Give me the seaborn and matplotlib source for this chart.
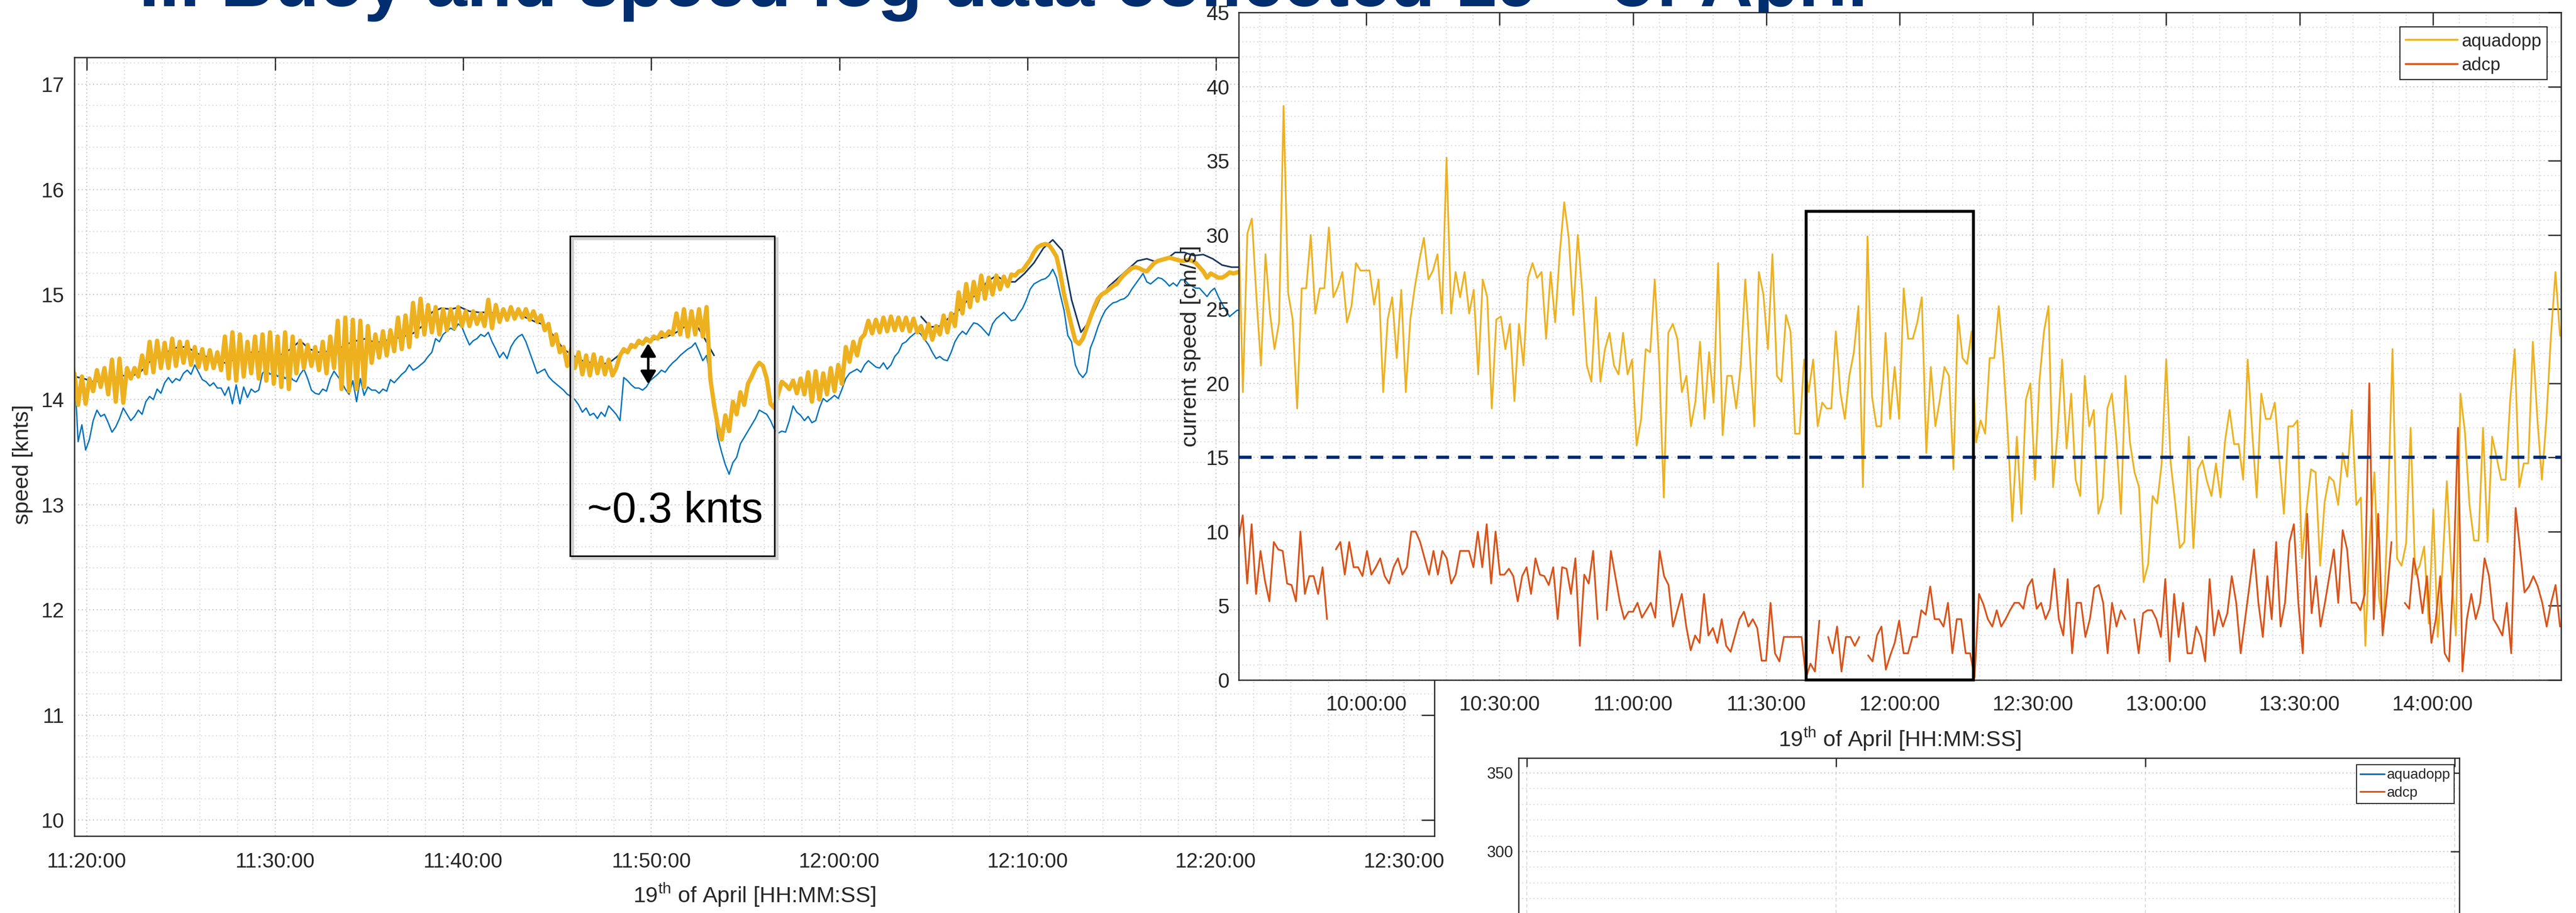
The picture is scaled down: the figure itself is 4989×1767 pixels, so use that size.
import numpy as np
import pandas as pd
import matplotlib
matplotlib.use("Agg")
import matplotlib.pyplot as plt
import matplotlib.dates as mdates
import matplotlib.transforms as mtransforms
from matplotlib.patches import Rectangle, FancyArrowPatch
from matplotlib.lines import Line2D
from matplotlib.ticker import MultipleLocator
import seaborn as sns

sns.set_theme(style="white")
plt.rcParams["font.family"] = ["Liberation Sans", "DejaVu Sans"]
plt.rcParams["mathtext.fontset"] = "custom"
plt.rcParams["mathtext.rm"] = "Liberation Sans"
plt.rcParams["mathtext.it"] = "Liberation Sans:italic"
plt.rcParams["mathtext.bf"] = "Liberation Sans:bold"

DAY = "2018-04-19 "
TXT = "#262626"

# ---------------- left panel: ship speed [knts], 12 s samples from 11:19:20
speed_orange = [
    14.25, 13.95, 14.22, 13.96, 14.20,
    14.08, 14.28, 14.12, 14.30, 14.05,
    14.38, 13.98, 14.39, 13.97, 14.30,
    14.20, 14.30, 14.22, 14.42, 14.25,
    14.55, 14.26, 14.56, 14.30, 14.54,
    14.30, 14.58, 14.32, 14.55, 14.35,
    14.55, 14.33, 14.50, 14.31, 14.48,
    14.29, 14.47, 14.30, 14.45, 14.28,
    14.60, 14.20, 14.64, 14.18, 14.62,
    14.22, 14.55, 14.25, 14.60, 14.20,
    14.62, 14.18, 14.64, 14.15, 14.60,
    14.12, 14.64, 14.10, 14.60, 14.25,
    14.56, 14.30, 14.52, 14.32, 14.50,
    14.28, 14.55, 14.25, 14.60, 14.30,
    14.75, 14.10, 14.78, 14.08, 14.76,
    14.10, 14.75, 14.12, 14.70, 14.35,
    14.62, 14.40, 14.65, 14.42, 14.66,
    14.46, 14.78, 14.48, 14.80, 14.50,
    14.92, 14.60, 14.96, 14.62, 14.90,
    14.64, 14.88, 14.62, 14.86, 14.66,
    14.86, 14.68, 14.88, 14.70, 14.84,
    14.70, 14.84, 14.72, 14.82, 14.70,
    14.95, 14.68, 14.90, 14.74, 14.86,
    14.76, 14.88, 14.77, 14.86, 14.78,
    14.86, 14.76, 14.84, 14.74, 14.80,
    14.66, 14.72, 14.52, 14.62, 14.45,
    14.50, 14.32, 14.48, 14.30, 14.45,
    14.24, 14.42, 14.23, 14.43, 14.25,
    14.40, 14.24, 14.38, 14.23, 14.30,
    14.42, 14.48, 14.45, 14.52, 14.50,
    14.56, 14.53, 14.58, 14.55, 14.60,
    14.58, 14.64, 14.60, 14.65, 14.62,
    14.82, 14.62, 14.86, 14.60, 14.84,
    14.62, 14.86, 14.60, 14.88, 14.20,
    13.95, 13.75, 13.62, 13.85, 13.70,
    13.98, 13.86, 14.07, 13.95, 14.15,
    14.22, 14.30, 14.35, 14.32, 14.20,
    13.96, 13.92, 14.05, 14.17, 14.14,
    14.10, 14.18, 14.06, 14.20, 14.05,
    14.26, 13.98, 14.27, 14.00, 14.25,
    14.05, 14.30, 14.08, 14.33, 14.15,
    14.50, 14.36, 14.55, 14.42, 14.58,
    14.62, 14.75, 14.63, 14.76, 14.64,
    14.78, 14.65, 14.79, 14.66, 14.78,
    14.66, 14.78, 14.65, 14.77, 14.64,
    14.70, 14.58, 14.72, 14.57, 14.70,
    14.62, 14.80, 14.64, 14.82, 14.70,
    15.02, 14.82, 15.10, 14.88, 15.12,
    14.94, 15.18, 14.96, 15.16, 15.00,
    15.18, 15.05, 15.17, 15.08, 15.19,
    15.18, 15.22, 15.23, 15.28, 15.33,
    15.40, 15.45, 15.47, 15.48, 15.47,
    15.42, 15.36, 15.20, 15.00, 14.85,
    14.70, 14.56, 14.53, 14.58, 14.68,
    14.78, 14.88, 14.96, 15.00, 15.02,
    15.05, 15.08, 15.10, 15.15, 15.19,
    15.22, 15.25, 15.26, 15.25, 15.23,
    15.22, 15.26, 15.30, 15.32, 15.33,
    15.34, 15.35, 15.34, 15.33, 15.32,
    15.32, 15.33, 15.32, 15.30, 15.26,
    15.22, 15.16, 15.20, 15.18, 15.16,
    15.16, 15.18, 15.21, 15.20, 15.21,
    15.22, 15.20, 15.23, 15.21, 15.24,
]

speed_blue = [
    14.30, 13.60, 13.76, 13.52, 13.62,
    13.80, 13.90, 13.84, 13.86, 13.78,
    13.69, 13.74, 13.82, 13.92, 13.86,
    13.80, 13.84, 13.90, 13.86, 13.98,
    14.03, 14.00, 14.10, 14.06, 14.16,
    14.21, 14.16, 14.20, 14.18, 14.25,
    14.28, 14.24, 14.33, 14.26, 14.19,
    14.17, 14.13, 14.16, 14.11, 14.11,
    14.04, 14.12, 13.96, 14.14, 13.96,
    14.12, 14.02, 14.10, 14.07, 14.09,
    14.25, 14.29, 14.24, 14.27, 14.22,
    14.25, 14.20, 14.24, 14.19, 14.17,
    14.24, 14.29, 14.20, 14.09, 14.06,
    14.05, 14.10, 14.08, 14.20, 14.27,
    14.22, 14.17, 14.10, 14.05, 14.18,
    13.98, 14.20, 14.04, 14.12, 14.09,
    14.09, 14.06, 14.10, 14.08, 14.19,
    14.16, 14.20, 14.24, 14.27, 14.33,
    14.28, 14.30, 14.33, 14.36, 14.41,
    14.45, 14.58, 14.55, 14.62, 14.65,
    14.68, 14.66, 14.72, 14.69, 14.60,
    14.52, 14.56, 14.58, 14.62, 14.60,
    14.64, 14.55, 14.48, 14.40, 14.45,
    14.39, 14.50, 14.56, 14.60, 14.62,
    14.55, 14.45, 14.35, 14.25, 14.27,
    14.29, 14.22, 14.18, 14.15, 14.12,
    14.09, 14.05, 14.03, 14.00, 13.95,
    13.88, 13.92, 13.85, 13.87, 13.82,
    13.88, 13.84, 13.94, 13.90, 13.86,
    13.80, 14.21, 14.18, 14.14, 14.11,
    14.11, 14.09, 14.12, 14.18, 14.21,
    14.24, 14.28, 14.26, 14.31, 14.35,
    14.38, 14.42, 14.45, 14.48, 14.50,
    14.54, 14.46, 14.37, 14.42, 14.20,
    13.90, 13.64, 13.50, 13.38, 13.29,
    13.40, 13.45, 13.58, 13.64, 13.70,
    13.76, 13.82, 13.90, 13.88, 13.86,
    13.80, 13.72, 13.68, 13.70, 13.69,
    13.80, 13.94, 13.88, 13.85, 13.80,
    13.84, 13.78, 13.80, 13.92, 14.01,
    13.98, 14.01, 14.04, 14.01, 14.10,
    14.20, 14.25, 14.27, 14.29, 14.26,
    14.33, 14.37, 14.34, 14.31, 14.30,
    14.35, 14.29, 14.33, 14.41, 14.45,
    14.53, 14.55, 14.59, 14.62, 14.65,
    14.62, 14.57, 14.52, 14.45, 14.39,
    14.41, 14.38, 14.37, 14.45, 14.55,
    14.61, 14.65, 14.62, 14.68, 14.73,
    14.72, 14.69, 14.65, 14.61, 14.72,
    14.77, 14.80, 14.83, 14.79, 14.75,
    14.76, 14.82, 14.87, 14.95, 15.05,
    15.10, 15.12, 15.14, 15.15, 15.18,
    15.24, 15.16, 15.00, 14.85, 14.61,
    14.55, 14.33, 14.25, 14.21, 14.26,
    14.49, 14.58, 14.69, 14.78, 14.85,
    14.89, 14.92, 14.93, 14.95, 14.96,
    14.99, 15.05, 15.10, 15.15, 15.20,
    15.12, 15.10, 15.13, 15.16, 15.15,
    15.12, 15.08, 15.11, 15.08, 15.14,
    15.14, 15.10, 15.08, 15.06, 15.06,
    15.02, 14.98, 15.03, 15.06, 14.98,
    14.91, 14.85, 14.79, 14.82, 14.85,
    14.85, 14.90, 14.88, 14.92, 14.90,
]

# 30 s samples from 11:19:20, nan = no data
speed_navy = [
    14.22, 14.20, 14.17, 14.18, 14.20, 14.23, 14.22, 14.26, 14.36, 14.41,
    14.46, 14.50, 14.50, 14.44, 14.41, 14.36, 14.35, 14.38, 14.41, 14.46,
    14.45, 14.41, 14.43, 14.48, 14.56, 14.48, 14.45, 14.46, 14.48, 14.53,
    14.56, 14.58, 14.54, 14.56, 14.58, 14.60, 14.63, 14.70, 14.83, 14.87,
    14.86, 14.88, 14.84, 14.83, 14.83, 14.82, 14.81, 14.83, 14.78, 14.74,
    14.71, 14.60, 14.48, 14.42, 14.37, 14.35, 14.33, 14.36, 14.43, 14.48,
    14.53, 14.56, 14.58, 14.60, 14.64, 14.70, 14.73, 14.58, 14.42, np.nan,
    np.nan, np.nan, np.nan, np.nan, np.nan, np.nan, np.nan, np.nan, np.nan, np.nan,
    np.nan, np.nan, np.nan, np.nan, np.nan, np.nan, np.nan, np.nan, np.nan, np.nan,
    14.79, 14.69, 14.70, 14.78, 14.85, 14.95, 15.00, 15.12, 15.18, 15.12,
    15.12, 15.20, 15.30, 15.44, 15.52, 15.42, 14.95, 14.64, 14.76, 14.96,
    15.08, 15.16, 15.24, 15.32, 15.34, 15.31, 15.33, 15.40, 15.40, 15.37,
    15.38, 15.34, 15.28, 15.26, 15.26, 15.27, 15.28,
]

# ---------------- right panel: current speed [cm/s], ~1 min samples 09:31:12 - 14:28:36
aquadopp = [
    31.6, 19.4, 30.1, 31.1, 25.8, 21.2, 28.7, 24.7, 22.3, 24.1,
    38.7, 26.1, 24.3, 18.3, 26.4, 26.4, 30.0, 24.7, 26.4, 26.4,
    30.5, 25.8, 26.5, 27.5, 24.1, 25.2, 28.1, 27.6, 27.6, 27.6,
    25.3, 27.0, 19.4, 24.3, 25.8, 21.7, 26.3, 19.4, 24.3, 26.5,
    28.3, 29.8, 27.0, 27.6, 28.7, 24.7, 35.2, 24.7, 27.5, 25.8,
    27.5, 24.7, 26.3, 20.6, 27.0, 25.8, 18.3, 24.3, 24.5, 22.3,
    24.0, 18.8, 24.0, 21.2, 27.1, 28.1, 27.1, 27.5, 23.0, 27.5,
    24.1, 28.7, 32.2, 29.8, 24.6, 30.0, 26.1, 21.2, 20.1, 25.8,
    20.1, 22.3, 23.4, 21.2, 20.6, 23.4, 20.6, 21.6, 15.8, 17.6,
    22.3, 22.1, 27.0, 21.2, 12.3, 23.4, 24.0, 23.0, 19.4, 20.5,
    17.1, 18.8, 22.8, 17.6, 22.1, 18.7, 28.1, 16.5, 20.5, 20.5,
    18.3, 21.2, 27.0, 22.1, 17.1,
    27.5, 26.0, 22.3, 28.7, 20.5, 20.1, 24.6, 23.5, 16.6, 16.6,
    21.6, 19.4, 21.6, 17.1, 18.7, 18.3, 18.3, 23.5, 19.4, 17.6,
    20.5, 22.1, 25.2, 13.0, 29.9, 19.1, 17.1, 17.1, 23.4, 17.6,
    21.1, 17.6, 26.4, 23.0, 23.0, 24.1, 25.8, 15.3, 21.1, 17.1,
    18.9, 21.1, 20.5, 14.2, 24.6, 21.7, 21.3, 23.5, 16.0, 17.5,
    16.6, 21.7, 21.7, 25.2, 21.6, 16.6, 10.7, 16.4, 11.2, 18.9,
    20.0, 13.5, 20.2, 23.5, 25.2, 13.0, 16.7, 21.6, 15.6, 19.3,
    13.5, 12.4, 20.5, 17.1, 18.2, 11.2, 12.3, 18.3, 19.3, 16.1,
    11.2, 20.5, 16.0, 14.0, 13.0, 6.6, 7.8, 12.4, 11.9, 14.6,
    21.6, 14.6, 11.9, 8.9, 9.3, 16.4, 8.9, 14.2, 14.8, 13.4,
    12.4, 14.6, 12.3, 16.1, 18.2, 15.9, 15.9, 13.5, 21.6, 16.7,
    12.3, 19.3, 17.6, 17.6, 18.7, 14.8, 11.2, 17.1, 17.1, 17.5,
    8.2, 11.5, 14.2, 14.0, 7.7, 12.0, 13.7, 13.4, 11.8, 15.3,
    13.7, 18.2, 11.8, 12.3, 2.3, 9.7, 14.0, 5.6, 3.7, 11.8,
    22.3, 8.2, 7.7, 9.2, 17.0, 7.1, 7.7, 9.0, 3.8, 11.5,
    2.9, 7.4, 13.4, 7.4, 3.0, 19.3, 16.7, 11.8, 9.4, 9.4,
    17.0, 9.3, 16.4, 15.0, 13.5, 13.5, 18.9, 22.3, 13.0, 14.6,
    14.6, 22.8, 17.6, 13.5, 17.6, 23.2, 27.5, 23.2,
]

adcp = [
    9.4, 11.1, 6.5, 10.5, 5.8, 8.7, 6.7, 5.3, 9.3, 8.8,
    8.7, 6.5, 6.4, 5.3, 10.0, 5.8, 7.0, 7.0, 5.8, 7.6,
    4.1, np.nan, 8.8, 9.3, 7.1, 9.3, 7.6, 7.6, 7.0, 8.7,
    7.1, 7.6, 8.2, 7.0, 6.5, 7.6, 8.2, 7.1, 7.6, 10.0,
    10.0, 9.3, 8.2, 7.1, 8.7, 7.1, 8.7, 8.2, 6.5, 7.1,
    8.7, 8.7, 8.7, 7.6, 10.0, 7.6, 10.5, 6.5, 10.0, 7.1,
    7.1, 7.5, 7.0, 5.3, 7.0, 7.6, 5.8, 8.2, 7.1, 7.0,
    6.4, 7.6, 4.1, 7.6, 7.5, 5.8, 8.2, 2.3, 7.1, 6.5,
    8.7, 4.1, np.nan, 4.7, 8.7, 7.0, 5.3, 4.1, 4.6, 4.6,
    5.2, 4.2, 4.7, 5.2, 4.2, 8.7, 7.0, 6.4, 3.6, 4.7,
    5.8, 3.6, 2.0, 3.0, 2.5, 5.8, 3.0, 3.5, 2.5, 4.1,
    2.3, 1.9, 3.0, 4.1, 4.6, 3.6, 4.1, 3.5, 1.3, 1.3,
    5.2, 1.8, 1.25, 2.9, 2.9, 2.9, 2.9, 2.9, 0.16, 1.1,
    0.57, 4.0, np.nan, 2.9, 1.8, 3.6, 0.57, 2.9, 2.9, 2.3,
    2.9, np.nan, 1.66, 1.25, 3.0, 3.6, 0.7, 1.66, 2.5, 4.0,
    1.8, 1.8, 2.9, 2.9, 4.7, 4.4, 6.3, 4.1, 4.1, 3.6,
    5.2, 1.8, 4.1, 4.1, 1.8, 1.8, 0.16, 5.8, 5.1, 4.1,
    3.6, 4.7, 3.6, 4.1, 4.7, 5.2, 5.2, 4.8, 6.3, 6.8,
    4.8, 5.2, 4.1, 4.8, 7.5, 4.1, 3.0, 6.8, 1.8, 5.2,
    5.2, 2.9, 4.1, 6.2, 6.4, 5.2, 1.8, 5.2, 3.6, 4.7,
    4.1, np.nan, 4.1, 1.8, 4.5, 4.7, 4.7, 4.1, 2.9, 6.8,
    1.25, 5.8, 2.9, 5.2, 1.8, 1.8, 3.6, 2.9, 1.25, 6.8,
    3.0, 4.7, 3.6, 4.5, 7.0, 5.2, 1.8, 4.1, 6.4, 8.8,
    5.2, 2.9, 7.0, 4.1, 9.3, 3.6, 5.2, 9.3, 10.5, 5.2,
    1.8, 11.2, 4.5, 7.0, 3.6, 5.2, 7.0, 8.8, 5.2, 10.1,
    8.8, 5.2, 5.2, 4.7, 5.8, 20.0, 4.1, 11.2, 3.0, 5.8,
    9.3, np.nan, np.nan, 5.2, 4.8, 8.2, 6.8, 4.5, 7.0, 2.5,
    4.1, 7.0, 1.8, 1.25, 7.4, 17.0, 0.57, 4.1, 5.8, 4.1,
    5.2, 8.2, 7.0, 4.1, 3.6, 3.0, 5.2, 1.8, 11.6, 8.8,
    5.9, 6.3, 7.0, 6.3, 5.2, 3.6, 5.2, 6.4, 3.6,
]

current_limit = 15          # cm/s reference line
bottom_labels = ["aquadopp", "adcp"]

t_fast = pd.date_range(DAY + "11:19:20", periods=len(speed_orange), freq="12s")
t_navy = pd.date_range(DAY + "11:19:20", periods=len(speed_navy), freq="30s")
t_aqua = pd.date_range(DAY + "09:31:12", DAY + "14:28:36", periods=len(aquadopp))
t_adcp = pd.date_range(DAY + "09:31:12", DAY + "14:28:36", periods=len(adcp))


def draw_line(ax, times, values, color, lw):
    df = pd.DataFrame({"time": times, "value": values})
    df["seg"] = df["value"].isna().cumsum()
    df = df.dropna()
    sns.lineplot(data=df, x="time", y="value", units="seg", estimator=None,
                 sort=False, color=color, lw=lw, ax=ax, legend=False)


def matlab_axes(ax, ticklen, labelsize, xpad, ypad):
    ax.set_facecolor("white")
    ax.set_axisbelow(True)
    ax.grid(True, which="major", color="#b5b5b5", ls=(0, (1, 3)), lw=1.3)
    ax.grid(True, which="minor", color="#cfcfcf", ls=(0, (1, 3)), lw=1.3)
    ax.tick_params(which="major", direction="in", length=ticklen, width=1.8,
                   top=True, right=True, colors=TXT, labelsize=labelsize)
    ax.tick_params(which="minor", length=0, top=True, right=True)
    ax.tick_params(axis="x", pad=xpad)
    ax.tick_params(axis="y", pad=ypad)
    for s in ax.spines.values():
        s.set_color(TXT)
        s.set_linewidth(1.8)


fig = plt.figure(figsize=(49.89, 17.67), dpi=100)
W, H = 4989, 1767

# ---------------- left axes
ax1 = fig.add_axes([144 / W, 1 - 1618 / H, 2634 / W, 1507 / H])
ax1.set_zorder(1)
draw_line(ax1, t_navy, speed_navy, "#17375E", 2.2)
draw_line(ax1, t_fast, speed_blue, "#0072BD", 1.9)
draw_line(ax1, t_fast, speed_orange, "#EDB120", 6.0)
ax1.set_xlim(pd.Timestamp(DAY + "11:19:20"), pd.Timestamp(DAY + "12:31:37"))
ax1.set_ylim(9.848, 17.256)
ax1.xaxis.set_major_locator(mdates.MinuteLocator(byminute=range(0, 60, 10)))
ax1.xaxis.set_minor_locator(mdates.MinuteLocator(byminute=range(0, 60, 2)))
ax1.xaxis.set_major_formatter(mdates.DateFormatter("%H:%M:%S"))
ax1.yaxis.set_major_locator(MultipleLocator(1))
ax1.yaxis.set_minor_locator(MultipleLocator(0.2))
matlab_axes(ax1, 18, 29, 22, 14)
ax1.set_xlabel(r"19$^{\rm th}$ of April [HH:MM:SS]", fontsize=31, color=TXT, va="baseline")
ax1.xaxis.set_label_coords(0.5, -0.0856)
ax1.set_ylabel("speed [knts]", fontsize=31, color=TXT, va="center")
ax1.yaxis.set_label_coords(-0.038, 0.477)

# annotation box, arrow and text
d2n = lambda s: mdates.date2num(pd.Timestamp(DAY + s).to_pydatetime())
bx0, bx1 = d2n("11:45:40"), d2n("11:56:33")
shadow = mtransforms.offset_copy(ax1.transData, fig=fig, x=5, y=-5, units="dots")
ax1.add_patch(Rectangle((bx0, 12.51), bx1 - bx0, 15.555 - 12.51, fill=False,
                        ec="#d0d0d0", lw=4, transform=shadow, zorder=4))
ax1.add_patch(Rectangle((bx0, 12.51), bx1 - bx0, 15.555 - 12.51, fill=False,
                        ec="black", lw=2.2, zorder=5))
ax1.text(d2n("11:51:15"), 12.83, "~0.3 knts", fontsize=60, color="black",
         ha="center", va="baseline", zorder=6)
xa = d2n("11:49:50")
ax1.add_patch(FancyArrowPatch((xa, 14.535), (xa, 14.148),
                              arrowstyle="<|-|>,head_length=0.5,head_width=0.3",
                              mutation_scale=30, lw=3.5, color="black",
                              shrinkA=0, shrinkB=0, zorder=6))

# ---------------- right top axes
ax2 = fig.add_axes([2399 / W, 1 - 1316 / H, 2561 / W, 1292 / H])
ax2.set_zorder(2)
draw_line(ax2, t_aqua, aquadopp, "#EDB120", 2.4)
draw_line(ax2, t_adcp, adcp, "#D95319", 2.4)
ax2.axhline(current_limit, color="#002A6E", lw=4.5, ls=(0, (4, 2.8)), zorder=3)
ax2.set_xlim(pd.Timestamp(DAY + "09:31:17"), pd.Timestamp(DAY + "14:28:50"))
ax2.set_ylim(0, 45)
ax2.xaxis.set_major_locator(mdates.MinuteLocator(byminute=[0, 30]))
ax2.xaxis.set_minor_locator(mdates.MinuteLocator(byminute=range(0, 60, 6)))
ax2.xaxis.set_major_formatter(mdates.DateFormatter("%H:%M:%S"))
ax2.yaxis.set_major_locator(MultipleLocator(5))
ax2.yaxis.set_minor_locator(MultipleLocator(1))
matlab_axes(ax2, 18, 29, 21, 13)
rx0, rx1 = d2n("11:39:00"), d2n("12:16:40")
ax2.add_patch(Rectangle((rx0, 0), rx1 - rx0, 31.58, fill=False, ec="black",
                        lw=4, zorder=5, clip_on=False))
ax2.set_xlabel(r"19$^{\rm th}$ of April [HH:MM:SS]", fontsize=31, color=TXT, va="baseline")
ax2.xaxis.set_label_coords(0.5, -0.0998)
ax2.set_ylabel("current speed [cm/s]", fontsize=31, color=TXT, va="center")
ax2.yaxis.set_label_coords(-0.0363, 0.5)
h2 = [Line2D([], [], color="#EDB120", lw=2.6), Line2D([], [], color="#D95319", lw=2.6)]
leg2 = ax2.legend(h2, bottom_labels, loc="upper right", bbox_to_anchor=(0.9895, 0.978),
                  borderaxespad=0, fontsize=25, handlelength=2.9, handletextpad=0.2,
                  labelspacing=0.38, borderpad=0.32, fancybox=False, framealpha=1,
                  edgecolor=TXT)
leg2.get_frame().set_linewidth(1.6)
for t in leg2.get_texts():
    t.set_color(TXT)

# ---------------- right bottom axes (mostly cut off)
ax3 = fig.add_axes([2941 / W, 1 - 1952 / H, 1822 / W, 485 / H])
ax3.set_zorder(2)
ax3.set_xlim(-0.027, 3.015)
ax3.set_ylim(200, 359.5)
ax3.set_xticks([0, 1, 2, 3])
ax3.yaxis.set_major_locator(MultipleLocator(50))
ax3.yaxis.set_minor_locator(MultipleLocator(10))
matlab_axes(ax3, 12, 22, 8, 7)
ax3.grid(True, which="major", axis="x", color="#d6d6d6", ls=(0, (4, 3)), lw=1.2)
ax3.tick_params(labelbottom=False)
h3 = [Line2D([], [], color="#0072BD", lw=2.4), Line2D([], [], color="#D95319", lw=2.4)]
leg3 = ax3.legend(h3, bottom_labels, loc="upper right", bbox_to_anchor=(0.9945, 0.9732),
                  borderaxespad=0, fontsize=20, handlelength=1.7, handletextpad=0.15,
                  labelspacing=0.3, borderpad=0.27, fancybox=False, framealpha=1,
                  edgecolor=TXT)
leg3.get_frame().set_linewidth(1.4)
for t in leg3.get_texts():
    t.set_color(TXT)

# ---------------- slide title (cut off at the top)
fig.text(268 / W, 1 - 13 / H, r"II. Buoy and speed log data collected 19$^{\mathbf{th}}$ of April",
         fontsize=103, fontweight="bold", color="#002E6E", ha="left", va="baseline", zorder=0.5)

fig.savefig("out.png", dpi=100)
